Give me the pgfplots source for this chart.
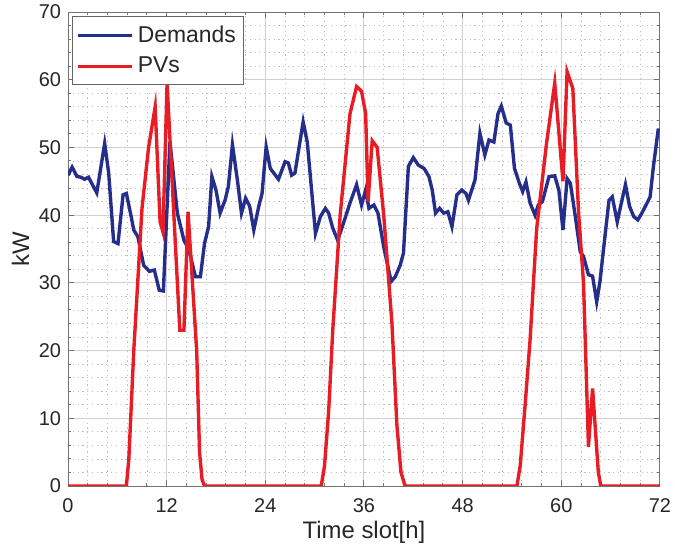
\documentclass[border=0pt]{standalone}
\usepackage{pgfplots}
\pgfplotsset{compat=1.18}
\usepackage{fontspec}
\setmainfont{Liberation Sans}
\definecolor{dblue}{RGB}{38,46,140}
\definecolor{pvred}{RGB}{232,28,36}
\definecolor{txtgray}{RGB}{38,38,38}
\begin{document}
\begin{tikzpicture}
\path[use as bounding box] (-34bp,-30bp) rectangle (303.5bp,243bp);
\begin{axis}[
  at={(0,0)}, anchor=origin,
  scale only axis,
  width=296bp, height=237bp,
  xmin=0, xmax=72, ymin=0, ymax=70,
  xtick={0,12,...,72}, ytick={0,10,...,70},
  minor x tick num=4, minor y tick num=4,
  grid=both,
  major grid style={black!18, line width=0.5pt},
  minor grid style={black!25, dash pattern=on 0.6pt off 1.8pt, line width=0.4pt},
  axis line style={black!55, line width=0.5pt},
  tick style={black!55, line width=0.5pt},
  tick align=inside,
  major tick length=3bp, minor tick length=1.5bp,
  /pgf/number format/assume math mode=true,
  ticklabel style={font=\fontsize{10}{12}\selectfont, text=txtgray},
  xticklabel style={yshift=-3bp},
  label style={font=\fontsize{12}{14}\selectfont, text=txtgray},
  xlabel={Time slot[h]},
  ylabel={kW},
  xlabel style={yshift=3bp},
  ylabel style={yshift=-2bp},
  legend style={at={(2bp,235bp)}, anchor=north west, draw=black!60, fill=white,
    font=\fontsize{11.5}{13.5}\selectfont, text=txtgray, inner xsep=2bp, inner ysep=2.5bp, row sep=2bp,
    cells={anchor=west}, line width=0.5pt},
  legend cell align=left,
  legend image code/.code={\draw[#1, line width=1.7pt] (0bp,0bp) -- (27bp,0bp);},
]
\addplot[dblue, line width=1.7pt] coordinates {
(0.0,45.9)(0.5,47.1)(1.1,45.7)(1.6,45.6)(2.0,45.3)(2.5,45.6)(3.1,44.2)(3.5,43.3)
(4.46,50.6)(4.95,46.2)(5.55,36.1)(6.08,35.8)(6.7,43.0)(7.1,43.2)(7.6,40.3)(8.0,37.8)
(8.5,36.8)(9.2,32.6)(9.9,31.7)(10.5,31.9)(11.1,28.9)(11.6,28.8)(12.4,50.8)(13.3,40.3)
(14.1,36.3)(14.7,34.9)(15.5,30.9)(16.1,30.9)(16.6,35.8)(17.1,38.3)(17.5,45.7)(18.0,43.7)
(18.5,40.3)(19.1,42.2)(19.5,44.2)(20.0,50.4)(20.6,45.2)(21.1,40.3)(21.6,42.5)(22.1,41.3)
(22.6,37.8)(23.2,41.3)(23.6,43.2)(24.1,50.1)(24.6,46.9)(25.6,45.3)(26.4,47.9)(26.8,47.7)
(27.2,45.9)(27.6,46.2)(28.6,53.8)(29.1,50.8)(30.1,37.3)(30.7,39.8)(31.3,41.0)(31.7,40.3)
(32.2,38.1)(32.8,36.3)(33.5,38.8)(34.3,41.8)(35.1,44.5)(35.7,41.5)(36.2,43.7)(36.6,41.0)
(37.2,41.5)(37.7,40.3)(38.4,35.3)(39.3,30.2)(39.8,30.9)(40.4,32.6)(40.8,34.4)(41.4,47.2)
(42.0,48.5)(42.6,47.4)(43.3,46.9)(43.9,45.7)(44.3,43.7)(44.7,40.3)(45.2,41.0)(45.7,40.3)
(46.2,40.5)(46.7,38.3)(47.3,43.0)(47.9,43.7)(48.4,43.2)(48.7,42.2)(49.5,45.2)(50.1,52.1)
(50.7,48.9)(51.2,51.1)(51.8,50.8)(52.3,55.0)(52.7,56.1)(53.3,53.6)(53.8,53.3)(54.3,46.9)
(54.9,44.7)(55.3,43.5)(55.7,44.9)(56.2,41.8)(56.8,40.0)(57.2,41.5)(57.7,42.0)(58.5,45.7)
(59.2,45.8)(59.7,43.7)(60.2,37.8)(60.7,45.4)(61.1,44.7)(61.7,39.8)(62.3,34.6)(62.7,33.9)
(63.3,31.2)(63.8,31.0)(64.3,27.2)(64.7,30.2)(65.3,36.8)(65.8,42.2)(66.2,42.7)(66.8,39.0)
(67.3,41.8)(67.8,44.5)(68.3,41.3)(68.8,39.8)(69.3,39.3)(69.8,40.3)(70.3,41.5)(70.8,42.7)
(71.2,47.2)(71.8,52.8)
};
\addlegendentry{Demands}
\addplot[pvred, line width=1.7pt] coordinates {
(0,0)(7.1,0)(7.4,4)(8.0,20)(9.0,41)(9.8,50)(10.6,56)(11.2,39)(11.55,37.5)(12.05,59.5)
(13.6,23)(14.1,23)(14.6,40.5)(15.65,20)(16.0,5)(16.3,1)(16.6,0)
(30.8,0)(31.2,3)(31.7,11)(32.2,23)(33.1,40)(34.3,55)(35.1,59)(35.7,58.3)(36.2,55)
(36.5,42)(37.0,51)(37.6,50)(38.4,40)(39.4,24)(40.0,9)(40.5,2)(41.0,0)
(54.6,0)(55.0,3)(55.6,12)(56.2,21.6)(57.0,38)(58.2,50.6)(59.2,59.5)(60.2,45)(60.7,61.2)
(61.4,58.7)(62.1,40.3)(62.7,30)(63.3,5.8)(63.8,14.4)(64.5,2)(64.8,0)(72,0)
};
\addlegendentry{PVs}
\end{axis}
\end{tikzpicture}
\end{document}
